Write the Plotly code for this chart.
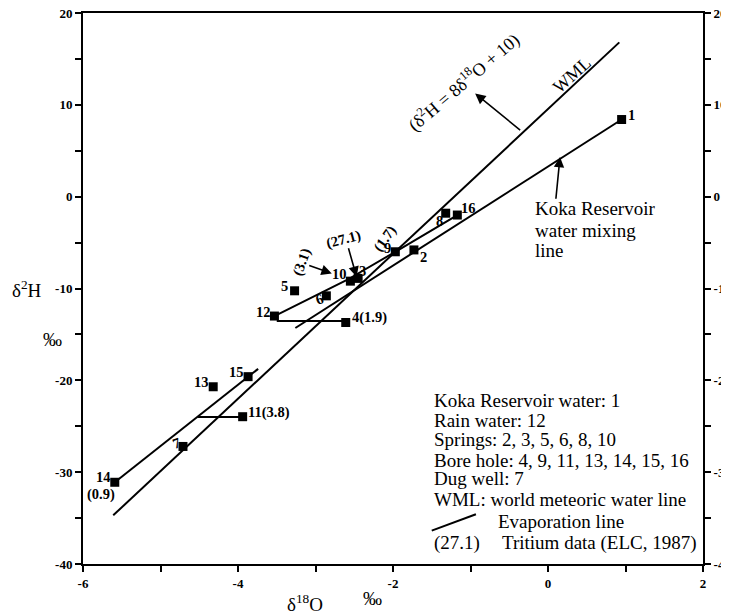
import plotly.graph_objects as go

# ---- data ----
sample_ids = ["1", "2", "3", "4", "5", "6", "7", "8", "9", "10", "11", "12", "13", "14", "15", "16"]
d18O = [0.95, -1.73, -2.45, -2.61, -3.27, -2.86, -4.71, -1.32, -1.97, -2.55, -3.94, -3.53, -4.32, -5.59, -3.87, -1.17]
d2H = [8.4, -5.8, -8.9, -13.7, -10.25, -10.8, -27.2, -1.8, -6.0, -9.2, -23.96, -13.0, -20.7, -31.1, -19.6, -2.0]

# world meteoric water line end points (d2H = 8 d18O + 10)
wml_x = [-5.61, 0.92]
wml_y = [-34.7, 16.8]
# Koka reservoir mixing line
mix_x = [0.95, -3.26]
mix_y = [8.4, -14.3]
# evaporation line through rain water (12)
evap12_x = [-3.53, -2.6, -1.97, -1.17]
evap12_y = [-13.0, -9.1, -6.0, -2.0]
# evaporation line through 14 and 15
evap14_x = [-5.59, -3.74]
evap14_y = [-31.1, -18.75]
# horizontal projection lines
proj4_x = [-3.50, -2.61]
proj4_y = [-13.55, -13.55]
proj11_x = [-4.52, -3.94]
proj11_y = [-24.0, -24.0]

x_ticks = [-6, -4, -2, 0, 2]
y_ticks = [20, 10, 0, -10, -20, -30, -40]

legend_lines = [
    "Koka Reservoir water: 1",
    "Rain water: 12",
    "Springs: 2, 3, 5, 6, 8, 10",
    "Bore hole: 4, 9, 11, 13, 14, 15, 16",
    "Dug well: 7",
    "WML: world meteoric water line",
]
legend_y = [-22.2, -24.4, -26.4, -28.7, -30.7, -33.0]

# point labels: text, x, y, angle
point_labels = [
    ("1", 1.08, 8.87, 0),
    ("16", -1.02, -1.18, 0),
    ("8", -1.40, -2.63, 0),
    ("9", -2.07, -5.64, 0),
    ("2", -1.61, -6.55, 0),
    ("(1.7)", -2.10, -4.55, -55),
    ("(27.1)", -2.64, -4.66, -15),
    ("(3.1)", -3.17, -7.09, -70),
    ("10", -2.69, -8.43, 0),
    ("3", -2.39, -8.07, 0),
    ("5", -3.40, -9.74, 0),
    ("6", -2.95, -11.19, -20),
    ("12", -3.67, -12.54, 0),
    ("4(1.9)", -2.30, -13.19, 0),
    ("15", -4.02, -19.13, 0),
    ("13", -4.47, -20.15, 0),
    ("11(3.8)", -3.60, -23.53, 0),
    ("7", -4.79, -26.86, -20),
    ("14", -5.74, -30.49, 0),
    ("(0.9)", -5.77, -32.4, 0),
]

SERIF = "Liberation Serif"
BLACK = "black"
# the page body has an 8px margin, so the figure is offset by 8px in the window
OFF = 8
W, H = 729 - OFF, 616 - OFF
ML, MR, MT, MB = 83 - OFF, 26, 13 - OFF, 52
PW, PH = W - ML - MR, H - MT - MB

fig = go.Figure()

line_style = dict(color=BLACK, width=2)
for xs, ys in [(wml_x, wml_y), (mix_x, mix_y), (evap12_x, evap12_y),
               (evap14_x, evap14_y), (proj4_x, proj4_y), (proj11_x, proj11_y)]:
    fig.add_trace(go.Scatter(x=xs, y=ys, mode="lines", line=line_style,
                             hoverinfo="skip", showlegend=False))

fig.add_trace(go.Scatter(x=d18O, y=d2H, mode="markers", text=sample_ids,
                         marker=dict(symbol="square", size=9, color=BLACK),
                         showlegend=False))

# invisible trace for right axis
fig.add_trace(go.Scatter(x=[-6], y=[-40], yaxis="y2", mode="markers",
                         marker=dict(opacity=0), hoverinfo="skip", showlegend=False))

annotations = []
for txt, x, y, ang in point_labels:
    annotations.append(dict(x=x, y=y, text=txt, showarrow=False, textangle=ang,
                            font=dict(family=SERIF, size=14.5, color=BLACK, weight="bold")))

# legend block
leg_font = dict(family=SERIF, size=19, color=BLACK)
for txt, y in zip(legend_lines, legend_y):
    annotations.append(dict(x=-1.50, y=y, text=txt, showarrow=False, xanchor="left",
                            font=leg_font))
annotations.append(dict(x=-0.67, y=-35.4, text="Evaporation line", showarrow=False,
                        xanchor="left", font=leg_font))
annotations.append(dict(x=-1.50, y=-37.7, text="(27.1)", showarrow=False,
                        xanchor="left", font=leg_font))
annotations.append(dict(x=-0.62, y=-37.7, text="Tritium data (ELC, 1987)", showarrow=False,
                        xanchor="left", font=leg_font))

# Koka label
for txt, y in [("Koka Reservoir", -1.28), ("water mixing", -3.65), ("line", -5.9)]:
    annotations.append(dict(x=-0.20, y=y, text=txt, showarrow=False, xanchor="left",
                            font=leg_font))

# WML labels
annotations.append(dict(x=0.305, y=13.22, text="WML", showarrow=False, textangle=-42,
                        font=dict(family=SERIF, size=18, color=BLACK)))
annotations.append(dict(x=-1.09, y=12.49, text="(δ<sup>2</sup>H = 8δ<sup>18</sup>O + 10)",
                        showarrow=False, textangle=-40.5,
                        font=dict(family=SERIF, size=18, color=BLACK)))

# arrows (head at x,y ; tail at ax,ay)
arrows = [
    (-0.94, 11.23, -0.34, 7.12),
    (0.155, 4.33, 0.10, -0.39),
    (-2.79, -8.36, -3.10, -7.45),
    (-2.47, -8.73, -2.58, -5.46),
]
for hx, hy, tx, ty in arrows:
    annotations.append(dict(x=hx, y=hy, ax=tx, ay=ty, axref="x", ayref="y",
                            xref="x", yref="y", text="", showarrow=True,
                            arrowhead=2, arrowsize=1.3, arrowwidth=1.6, arrowcolor=BLACK))

# axis titles (positions in window pixels converted to paper coords)
title_font = dict(family=SERIF, size=19, color=BLACK)
def px(xp, yp):
    return (xp - OFF - ML) / PW, (H - MB - (yp - OFF)) / PH
for txt, (xp, yp) in [("δ<sup>18</sup>O", (305, 603)), ("‰", (372, 598)),
                      ("δ<sup>2</sup>H", (27, 289)), ("‰", (52, 339))]:
    fx, fy = px(xp, yp)
    annotations.append(dict(x=fx, y=fy, xref="paper", yref="paper", text=txt,
                            xanchor="center", yanchor="middle",
                            showarrow=False, font=title_font))

shapes = [dict(type="line", xref="x", yref="y", x0=-1.50, y0=-36.37, x1=-0.93, y1=-34.58,
               line=dict(color=BLACK, width=2))]

tickfont = dict(family=SERIF, size=13, color=BLACK, weight="bold")
common = dict(ticks="outside", ticklen=6, tickwidth=2, tickcolor=BLACK,
              showline=True, linewidth=2, linecolor=BLACK,
              showgrid=False, zeroline=False, tickfont=tickfont, automargin=False,
              ticklabeloverflow="allow")
fig.update_layout(
    width=W, height=H,
    margin=dict(l=ML, r=MR, t=MT, b=MB, autoexpand=False),
    paper_bgcolor="white", plot_bgcolor="white",
    annotations=annotations, shapes=shapes,
    xaxis=dict(range=[-6, 2], tickvals=x_ticks, ticktext=[str(v) for v in x_ticks],
               minor=dict(dtick=1, ticks="outside", ticklen=6, tickwidth=2, tickcolor=BLACK),
               mirror=True, **common),
    yaxis=dict(range=[-40, 20], tickvals=y_ticks, ticktext=[str(v) for v in y_ticks],
               minor=dict(dtick=5, ticks="outside", ticklen=6, tickwidth=2, tickcolor=BLACK),
               **common),
    yaxis2=dict(range=[-40, 20], tickvals=y_ticks, ticktext=[str(v) for v in y_ticks],
                overlaying="y", side="right",
                minor=dict(dtick=5, ticks="outside", ticklen=6, tickwidth=2, tickcolor=BLACK),
                **common),
)

fig.write_html("out.html")
